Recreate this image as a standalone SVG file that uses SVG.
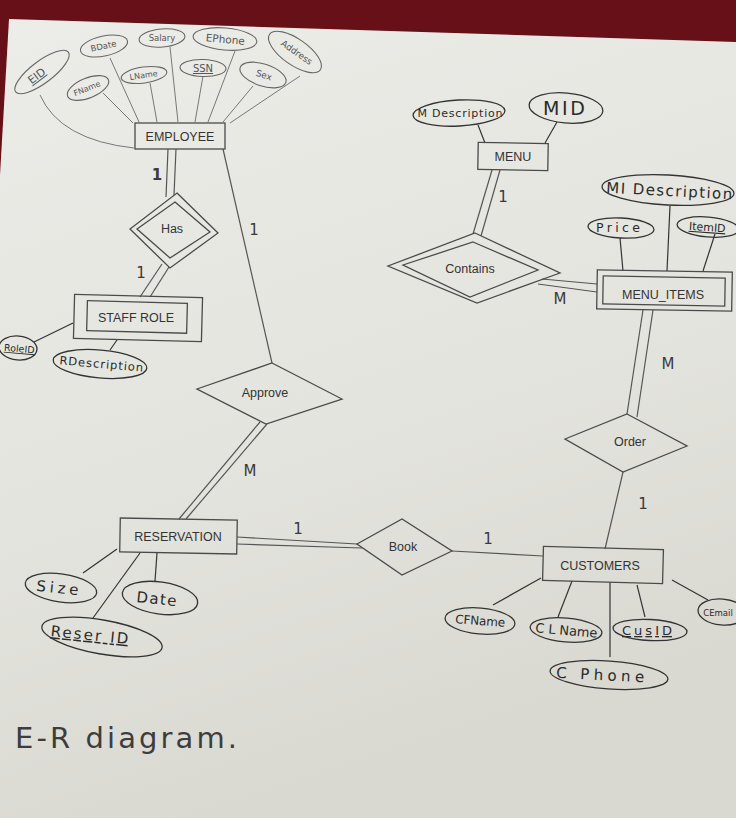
<svg xmlns="http://www.w3.org/2000/svg" width="736" height="818" viewBox="0 0 736 818">
<defs>
<linearGradient id="paper" x1="0" y1="0" x2="0.3" y2="1">
<stop offset="0" stop-color="#ecece8"/>
<stop offset="0.6" stop-color="#e4e4de"/>
<stop offset="1" stop-color="#d9d9d2"/>
</linearGradient>
<style>
.ent{fill:none;stroke:#4a4a4a;stroke-width:1.3}
.lbl{font-family:"Liberation Sans",Arial,sans-serif;font-size:12.5px;fill:#333;text-anchor:middle}
.att{fill:none;stroke:#333;stroke-width:1.3}
.patt{fill:none;stroke:#666;stroke-width:1.1}
.hw{font-family:"DejaVu Sans",sans-serif;fill:#2b2b2b;text-anchor:middle}
.phw{font-family:"DejaVu Sans",sans-serif;fill:#555;text-anchor:middle}
.ul{text-decoration:underline}
#connectors line,#connectors path{stroke:#555;stroke-width:1.2;fill:none}
#connectors .pen{stroke:#333}
#connectors .pencil{stroke:#777;stroke-width:1}
.card{font-family:"DejaVu Sans",sans-serif;fill:#3a3a3a;font-size:15px;text-anchor:middle}
</style>
</defs>
<rect x="0" y="0" width="736" height="818" fill="#681017"/>
<polygon points="9,19 736,42 736,818 0,818 0,175" fill="url(#paper)"/>

<g id="connectors">
<path class="pencil" d="M40,95 Q60,140 134,148"/>
<line class="pencil" x1="103" y1="93" x2="133" y2="123"/>
<line class="pencil" x1="110" y1="58" x2="139" y2="122"/>
<line class="pencil" x1="150" y1="83" x2="157" y2="122"/>
<line class="pencil" x1="170" y1="47" x2="178" y2="122"/>
<line class="pencil" x1="203" y1="76" x2="195" y2="122"/>
<line class="pencil" x1="235" y1="51" x2="208" y2="122"/>
<line class="pencil" x1="253" y1="86" x2="223" y2="122"/>
<line class="pencil" x1="300" y1="76" x2="230" y2="123"/>
<line x1="168" y1="149" x2="166" y2="197"/>
<line x1="176" y1="149" x2="174" y2="195"/>
<line x1="162" y1="264" x2="140" y2="297"/>
<line x1="169" y1="267" x2="150" y2="297"/>
<line class="pen" x1="34" y1="342" x2="73" y2="323"/>
<line class="pen" x1="110" y1="350" x2="117" y2="340"/>
<line x1="223" y1="149" x2="272" y2="363"/>
<line x1="260" y1="422" x2="179" y2="519"/>
<line x1="267" y1="424" x2="186" y2="519"/>
<line class="pen" x1="83" y1="573" x2="117" y2="549"/>
<line class="pen" x1="93" y1="618" x2="140" y2="553"/>
<line class="pen" x1="157" y1="553" x2="155" y2="581"/>
<line x1="237" y1="537" x2="357" y2="544"/>
<line x1="237" y1="544" x2="362" y2="548"/>
<line x1="452" y1="551" x2="543" y2="556"/>
<line class="pen" x1="493" y1="605" x2="541" y2="578"/>
<line class="pen" x1="558" y1="617" x2="572" y2="581"/>
<line class="pen" x1="645" y1="617" x2="637" y2="585"/>
<line class="pen" x1="610" y1="582" x2="610" y2="657"/>
<line class="pen" x1="672" y1="580" x2="708" y2="600"/>
<line x1="623" y1="472" x2="605" y2="549"/>
<line x1="643" y1="310" x2="627" y2="414"/>
<line x1="653" y1="310" x2="637" y2="417"/>
<line class="pen" x1="670" y1="206" x2="667" y2="271"/>
<line class="pen" x1="620" y1="238" x2="623" y2="271"/>
<line class="pen" x1="715" y1="234" x2="703" y2="271"/>
<line class="pen" x1="478" y1="125" x2="485" y2="143"/>
<line class="pen" x1="557" y1="122" x2="545" y2="143"/>
<line x1="492" y1="170" x2="473" y2="234"/>
<line x1="500" y1="170" x2="481" y2="236"/>
<line x1="542" y1="279" x2="597" y2="284"/>
<line x1="538" y1="284" x2="597" y2="292"/>
</g>

<g id="cardinalities">
<text class="card" x="157" y="180" font-weight="700" font-size="13">1</text>
<text class="card" x="141" y="278">1</text>
<text class="card" x="254" y="235">1</text>
<text class="card" x="503" y="202" font-size="13">1</text>
<text class="card" x="560" y="304" font-size="17">M</text>
<text class="card" x="668" y="369" font-size="17">M</text>
<text class="card" x="250" y="476" font-size="17">M</text>
<text class="card" x="298" y="534">1</text>
<text class="card" x="488" y="544">1</text>
<text class="card" x="643" y="509">1</text>
</g>

<g id="employee">
<rect class="ent" x="135" y="123" width="90" height="26"/>
<text class="lbl" x="180" y="141">EMPLOYEE</text>
</g>
<g id="attr-eid">
<ellipse class="patt" cx="42" cy="72" rx="33" ry="11" transform="rotate(-37 42 72)"/>
<text class="phw ul" x="39" y="79" font-size="11" transform="rotate(-37 39 79)">EID</text>
</g>
<g id="attr-bdate">
<ellipse class="patt" cx="104" cy="46" rx="24" ry="10" transform="rotate(-12 104 46)"/>
<text class="phw" x="104" y="49" font-size="8.5" transform="rotate(-12 104 49)">BDate</text>
</g>
<g id="attr-salary">
<ellipse class="patt" cx="162" cy="38" rx="23" ry="9" transform="rotate(-5 162 38)"/>
<text class="phw" x="162" y="41" font-size="8.5">Salary</text>
</g>
<g id="attr-ephone">
<ellipse class="patt" cx="225" cy="39" rx="32" ry="11" transform="rotate(5 225 39)"/>
<text class="phw" x="225" y="43" font-size="10.5" transform="rotate(5 225 43)">EPhone</text>
</g>
<g id="attr-address">
<ellipse class="patt" cx="295" cy="52" rx="31" ry="13" transform="rotate(35 295 52)"/>
<text class="phw" x="295" y="55" font-size="9" transform="rotate(35 295 55)">Address</text>
</g>
<g id="attr-fname">
<ellipse class="patt" cx="88" cy="88" rx="22" ry="10" transform="rotate(-22 88 88)"/>
<text class="phw" x="88" y="91" font-size="8" transform="rotate(-22 88 91)">FName</text>
</g>
<g id="attr-lname">
<ellipse class="patt" cx="144" cy="75" rx="23" ry="8" transform="rotate(-8 144 75)"/>
<text class="phw" x="144" y="78" font-size="8" transform="rotate(-8 144 78)">LName</text>
</g>
<g id="attr-ssn">
<ellipse class="patt" cx="203" cy="68" rx="23" ry="8.5" transform="rotate(2 203 68)"/>
<text class="phw ul" x="203" y="72" font-size="10">SSN</text>
</g>
<g id="attr-sex">
<ellipse class="patt" cx="263" cy="75" rx="24" ry="11" transform="rotate(18 263 75)"/>
<text class="phw" x="263" y="78" font-size="9" transform="rotate(18 263 78)">Sex</text>
</g>

<g id="has">
<polygon class="ent" points="177,193 218,233 170,268 130,229"/>
<polygon class="ent" points="175,202 210,232 170,258 137,229"/>
<text class="lbl" x="172" y="233" font-size="12">Has</text>
</g>

<g id="staff-role">
<rect class="ent" x="74" y="296" width="128" height="44" transform="rotate(1.5 138 318)"/>
<rect class="ent" x="87" y="302" width="100" height="30" transform="rotate(1.5 138 318)"/>
<text class="lbl" x="136" y="322">STAFF  ROLE</text>
</g>
<g id="attr-roleid">
<ellipse class="att" cx="18" cy="348" rx="19" ry="12" transform="rotate(5 18 348)"/>
<text class="hw ul" x="19" y="352" font-size="9.5" transform="rotate(5 19 352)">RoleID</text>
</g>
<g id="attr-rdescription">
<ellipse class="att" cx="100" cy="364" rx="47" ry="14" transform="rotate(5 100 364)"/>
<text class="hw" x="101" y="368" font-size="11.5" textLength="84" transform="rotate(5 101 368)">RDescription</text>
</g>

<g id="approve">
<polygon class="ent" points="272,363 342,399 266,424 197,389"/>
<text class="lbl" x="265" y="397">Approve</text>
</g>

<g id="reservation">
<rect class="ent" x="120" y="519" width="117" height="34" transform="rotate(1 178 536)"/>
<text class="lbl" x="178" y="541">RESERVATION</text>
</g>
<g id="attr-size">
<ellipse class="att" cx="61" cy="588" rx="36" ry="14" transform="rotate(8 61 588)"/>
<text class="hw" x="57" y="593" font-size="15" textLength="42" transform="rotate(6 57 593)">Size</text>
</g>
<g id="attr-date">
<ellipse class="att" cx="160" cy="598" rx="38" ry="16" transform="rotate(8 160 598)"/>
<text class="hw" x="156" y="604" font-size="15" textLength="40" transform="rotate(6 156 604)">Date</text>
</g>
<g id="attr-reserid">
<ellipse class="att" cx="102" cy="637" rx="61" ry="17" transform="rotate(10 102 637)"/>
<text class="hw ul" x="89" y="640" font-size="15" textLength="78" transform="rotate(6 89 640)">Reser ID</text>
</g>

<g id="book">
<polygon class="ent" points="357,544 402,519 452,551 402,575"/>
<text class="lbl" x="403" y="551">Book</text>
</g>

<g id="customers">
<rect class="ent" x="543" y="548" width="120" height="34" transform="rotate(1.5 603 565)"/>
<text class="lbl" x="600" y="570">CUSTOMERS</text>
</g>
<g id="attr-cfname">
<ellipse class="att" cx="480" cy="621" rx="35" ry="13" transform="rotate(5 480 621)"/>
<text class="hw" x="480" y="625" font-size="12" textLength="50" transform="rotate(4 480 625)">CFName</text>
</g>
<g id="attr-clname">
<ellipse class="att" cx="566" cy="630" rx="36" ry="12" transform="rotate(5 566 630)"/>
<text class="hw" x="566" y="635" font-size="13" textLength="62" transform="rotate(5 566 635)">C L Name</text>
</g>
<g id="attr-cusid">
<ellipse class="att" cx="650" cy="630" rx="37" ry="10.5" transform="rotate(3 650 630)"/>
<text class="hw ul" x="647" y="635" font-size="13" textLength="50">CusID</text>
</g>
<g id="attr-cphone">
<ellipse class="att" cx="609" cy="675" rx="59" ry="14" transform="rotate(4 609 675)"/>
<text class="hw" x="600" y="680" font-size="15" textLength="88" transform="rotate(3 600 680)">C Phone</text>
</g>
<g id="attr-cemail">
<ellipse class="att" cx="722" cy="612" rx="24" ry="13" transform="rotate(5 722 612)"/>
<text class="hw" x="718" y="616" font-size="8.5">CEmail</text>
</g>

<g id="order">
<polygon class="ent" points="627,414 687,446 623,472 565,439"/>
<text class="lbl" x="630" y="446">Order</text>
</g>

<g id="menu-items">
<rect class="ent" x="597" y="271" width="135" height="39" transform="rotate(1 664 290)"/>
<rect class="ent" x="603" y="277" width="122" height="28" transform="rotate(1 664 290)"/>
<text class="lbl" x="663" y="299">MENU_ITEMS</text>
</g>
<g id="attr-midescription">
<ellipse class="att" cx="668" cy="190" rx="66" ry="15" transform="rotate(3 668 190)"/>
<text class="hw" x="669" y="196" font-size="15" textLength="126" transform="rotate(3 669 196)">MI Description</text>
</g>
<g id="attr-price">
<ellipse class="att" cx="621" cy="228" rx="33" ry="10" transform="rotate(3 621 228)"/>
<text class="hw" x="618" y="232" font-size="12.5" textLength="44">Price</text>
</g>
<g id="attr-itemid">
<ellipse class="att" cx="708" cy="227" rx="31" ry="10" transform="rotate(5 708 227)"/>
<text class="hw ul" x="707" y="231" font-size="11" transform="rotate(4 707 231)">ItemID</text>
</g>

<g id="menu">
<rect class="ent" x="478" y="143" width="70" height="27" transform="rotate(1 513 157)"/>
<text class="lbl" x="513" y="161">MENU</text>
</g>
<g id="attr-mdescription">
<ellipse class="att" cx="459" cy="113" rx="46" ry="13" transform="rotate(-3 459 113)"/>
<text class="hw" x="460" y="117" font-size="11" textLength="85">M Description</text>
</g>
<g id="attr-mid">
<ellipse class="att" cx="566" cy="108" rx="37" ry="15" transform="rotate(5 566 108)"/>
<text class="hw" x="564" y="115" font-size="19" textLength="42">MID</text>
</g>

<g id="contains">
<polygon class="ent" points="475,233 560,273 477,303 388,266"/>
<polygon class="ent" points="473,242 538,270 470,297 403,265"/>
<text class="lbl" x="470" y="273">Contains</text>
</g>

<text x="15" y="748" font-family="'DejaVu Sans',sans-serif" font-size="29" fill="#3d3d3d" textLength="222">E-R diagram.</text>
</svg>
